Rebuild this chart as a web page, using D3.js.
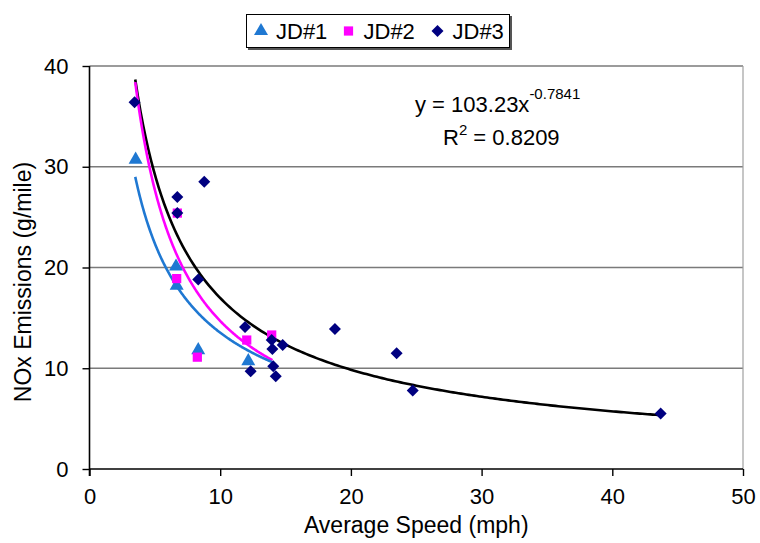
<!DOCTYPE html>
<html><head><meta charset="utf-8">
<script src="https://cdn.jsdelivr.net/npm/d3@7/dist/d3.min.js"></script>
<style>body{margin:0;background:#fff}svg{display:block;font-family:"Liberation Sans",Arial,sans-serif}</style>
</head><body><svg id="c" width="760" height="543"></svg>
<script>
// ---- data ----
const seriesNames = ["JD#1", "JD#2", "JD#3"];
const jd1Speed = [3.53, 6.62, 6.67, 8.32, 12.15];
const jd1NOx   = [30.8, 20.2, 18.3, 11.9, 10.8];
const jd2Speed = [6.72, 6.67, 8.25, 12.03, 13.94];
const jd2NOx   = [25.4, 18.9, 11.1, 12.8, 13.3];
const jd3Speed = [3.45, 6.72, 6.72, 8.78, 8.32, 11.90, 12.33, 13.94, 13.99, 14.78, 14.06, 14.25, 18.78, 23.5, 24.73, 43.7];
const jd3NOx   = [36.4, 27.0, 25.4, 28.5, 18.8, 14.1, 9.7, 12.8, 11.9, 12.3, 10.2, 9.2, 13.9, 11.5, 7.8, 5.5];
const trendA = [72.0, 120.8, 103.23];
const trendB = [-0.726, -0.915, -0.7841];
const trendFrom = [3.5, 3.5, 3.5];
const trendTo = [14.0, 14.0, 43.7];
const xTicks = [0, 10, 20, 30, 40, 50];
const yTicks = [0, 10, 20, 30, 40];
const eqText = ["y = 103.23x", "-0.7841", "R", "2", " = 0.8209"];

const colors = ["#1f78d2", "#ff00ff", "#000080"];
const lineColors = ["#1f78d2", "#ff00ff", "#000000"];
const symbols = [d3.symbolTriangle, d3.symbolSquare, d3.symbolSquare];
const symSizes = [85, 85, 72];
const symRot = [0, 0, 45];

const svg = d3.select("#c");
const L = 89.5, R = 743, T = 66, B = 469;
const x = d3.scaleLinear().domain([0, 50]).range([L, R]);
const y = d3.scaleLinear().domain([0, 40]).range([B, T]);

// gridlines
svg.append("g").selectAll("line").data(yTicks.filter(d => d > 0)).join("line")
  .attr("x1", L).attr("x2", R).attr("y1", d => y(d)).attr("y2", d => y(d))
  .attr("stroke", "#7a7a7a").attr("stroke-width", 1.6);
// right border
svg.append("line").attr("x1", R).attr("x2", R).attr("y1", T).attr("y2", B)
  .attr("stroke", "#a0a0a0").attr("stroke-width", 1.2);

// axes
const xAxis = d3.axisBottom(x).tickValues(xTicks).tickSize(7).tickPadding(12).tickFormat(d3.format("d"));
const yAxis = d3.axisLeft(y).tickValues(yTicks).tickSize(7).tickPadding(14).tickFormat(d3.format("d"));
const gx = svg.append("g").attr("transform", `translate(0,${B})`).call(xAxis);
const gy = svg.append("g").attr("transform", `translate(${L},0)`).call(yAxis);
[gx, gy].forEach(g => {
  g.select(".domain").attr("stroke", "#000").attr("stroke-width", 1.6);
  g.selectAll(".tick line").attr("stroke", "#000").attr("stroke-width", 1.4);
  g.selectAll("text").attr("font-size", 22).attr("fill", "#000").attr("font-family", "Liberation Sans, Arial");
});
gx.select(".domain").attr("d", `M${L},0H${R}`);
gy.select(".domain").attr("d", `M0,${T}V${B + 7}`);

// axis titles
svg.append("text").attr("x", (L + R) / 2).attr("y", 533).attr("text-anchor", "middle")
  .attr("font-size", 23).text("Average Speed (mph)");
svg.append("text").attr("transform", "translate(31,282) rotate(-90)").attr("text-anchor", "middle")
  .attr("font-size", 23).text("NOx Emissions (g/mile)");

// trendlines
const speeds = [jd1Speed, jd2Speed, jd3Speed];
const noxs = [jd1NOx, jd2NOx, jd3NOx];
const line = d3.line().x(d => x(d[0])).y(d => y(d[1]));
[2, 1, 0].forEach(i => {
  const lo = trendFrom[i], hi = trendTo[i];
  const pts = d3.range(0, 201).map(k => {
    const xv = lo + (hi - lo) * k / 200;
    return [xv, trendA[i] * Math.pow(xv, trendB[i])];
  });
  svg.append("path").datum(pts).attr("d", line).attr("fill", "none")
    .attr("stroke", lineColors[i]).attr("stroke-width", 2.6);
});

// markers
[0, 1, 2].forEach(i => {
  const pts = speeds[i].map((s, k) => [s, noxs[i][k]]);
  svg.append("g").selectAll("path").data(pts).join("path")
    .attr("transform", d => `translate(${x(d[0])},${y(d[1]) + (i === 0 ? 1 : 0)}) rotate(${symRot[i]})`)
    .attr("d", d3.symbol().type(symbols[i]).size(symSizes[i]))
    .attr("fill", colors[i]);
});

// equation
const eq = svg.append("text").attr("x", 415).attr("y", 112).attr("font-size", 22);
eq.append("tspan").text(eqText[0]);
eq.append("tspan").attr("dy", -13).attr("font-size", 15).text(eqText[1]);
const r2 = svg.append("text").attr("x", 443).attr("y", 145).attr("font-size", 22);
r2.append("tspan").text(eqText[2]);
r2.append("tspan").attr("dy", -10).attr("font-size", 15).text(eqText[3]);
r2.append("tspan").attr("dy", 10).text(eqText[4]);

// legend
const lg = svg.append("g");
lg.append("rect").attr("x", 248).attr("y", 16).attr("width", 264).attr("height", 34).attr("fill", "#555");
lg.append("rect").attr("x", 246.5).attr("y", 14.5).attr("width", 263).attr("height", 33)
  .attr("fill", "#fff").attr("stroke", "#000").attr("stroke-width", 1);
const lgX = [261, 348.5, 437.5];
seriesNames.forEach((n, i) => {
  lg.append("path").attr("transform", `translate(${lgX[i]},31) rotate(${symRot[i]})`)
    .attr("d", d3.symbol().type(symbols[i]).size(symSizes[i])).attr("fill", colors[i]);
  lg.append("text").attr("x", lgX[i] + 15).attr("y", 39).attr("font-size", 22).text(n);
});
</script></body></html>
